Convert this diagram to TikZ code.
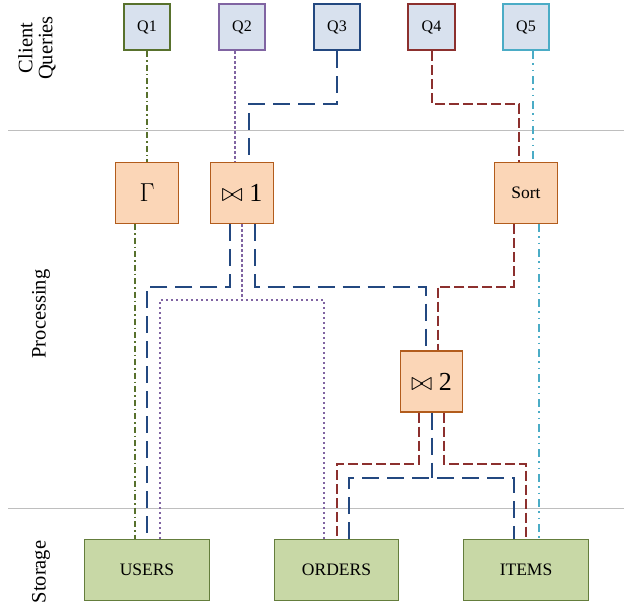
\RequirePackage{fix-cm}
\documentclass[tikz,border=0pt]{standalone}
\usepackage{fontspec}
\setmainfont{Liberation Serif}
\usepackage{xcolor}
\usepackage{tikz}
\usetikzlibrary{positioning,calc}

\definecolor{qfill}{RGB}{216,225,238}
\definecolor{pfill}{RGB}{251,214,183}
\definecolor{pborder}{RGB}{178,92,28}
\definecolor{sfill}{RGB}{200,216,166}
\definecolor{sborder}{RGB}{100,125,60}
\definecolor{sepgray}{RGB}{190,190,190}
\definecolor{cgreen}{RGB}{88,113,45}
\definecolor{cpurple}{RGB}{128,100,162}
\definecolor{cblue}{RGB}{35,72,128}
\definecolor{cred}{RGB}{140,48,46}
\definecolor{ccyan}{RGB}{75,172,198}

\begin{document}
\begin{tikzpicture}[x=1pt,y=-1pt,
    query/.style={draw, line width=2.2pt, fill=qfill, minimum width=46.5pt, minimum height=46.5pt, inner sep=0pt, font=\fontsize{16}{16}\selectfont},
    oper/.style={draw=pborder, line width=1.3pt, fill=pfill, minimum width=62.5pt, minimum height=61pt, inner sep=0pt, font=\fontsize{26}{26}\selectfont},
    store/.style={draw=sborder, line width=1.3pt, fill=sfill, minimum width=124.5pt, minimum height=60.5pt, inner sep=0pt, font=\fontsize{17.5}{17.5}\selectfont},
    lane/.style={rotate=90, align=center, font=\fontsize{20.5}{20}\selectfont},
    sep/.style={draw=sepgray, line width=1pt},
    gline/.style={draw=cgreen, line width=2pt, dash pattern=on 6pt off 3pt on 1.5pt off 3pt},
    pline/.style={draw=cpurple, line width=2pt, dash pattern=on 2.5pt off 2.5pt},
    bline/.style={draw=cblue, line width=2pt, dash pattern=on 17pt off 8pt},
    rline/.style={draw=cred, line width=2pt, dash pattern=on 10pt off 4pt},
    cline/.style={draw=ccyan, line width=2pt, dash pattern=on 8pt off 4pt on 1.5pt off 5pt on 1.5pt off 5pt},
]
    \useasboundingbox (0,0) rectangle (624,608);

    % Lanes
    \draw[sep] (8,130) -- (624,130);
    \draw[sep] (8,508.5) -- (624,508.5);
    \node[lane] (clients) at (37,48) {Client\\Queries};
    \node[lane] (processing) at (41,314) {Processing};
    \node[lane] (storage) at (41,572) {Storage};

    % Client queries
    \node[query, draw=cgreen] (q1) at (147,27) {Q1};
    \node[query, draw=cpurple] (q2) at (242,27) {Q2};
    \node[query, draw=cblue] (q3) at (337,27) {Q3};
    \node[query, draw=cred] (q4) at (431.5,27) {Q4};
    \node[query, draw=ccyan] (q5) at (526,27) {Q5};

    % Operators
    \node[oper] (g) at (147,193) {$\Gamma$};
    \node[oper] (j1) at (242,193) {$\bowtie$ 1};
    \node[oper, font=\fontsize{17.5}{17.5}\selectfont] (srt) at (526,193) {Sort};
    \node[oper] (j2) at (431.5,381.5) {$\bowtie$ 2};

    % Tables
    \node[store] (users) at (147,570) {USERS};
    \node[store] (orders) at (336.5,570) {ORDERS};
    \node[store] (items) at (526,570) {ITEMS};

    % Rows where the lines turn
    \coordinate (rowA) at (0,104);
    \coordinate (rowB) at (0,286.5);
    \coordinate (rowC) at (0,300);
    \coordinate (rowD) at (0,463.5);
    \coordinate (rowE) at (0,477.5);

    % Queries to operators
    \draw[gline] (q1.south) -- (g.north);
    \draw[pline] ([xshift=-7pt]q2.south) -- ([xshift=-7pt]j1.north);
    \draw[bline] (q3.south) |- ($(j1.north |- rowA)+(6.5,0)$) -- ([xshift=6.5pt]j1.north);
    \draw[rline] (q4.south) |- ($(srt.north |- rowA)+(-7,0)$) -- ([xshift=-7pt]srt.north);
    \draw[cline] ([xshift=6.5pt]q5.south) -- ([xshift=6.5pt]srt.north);

    % Operators to tables
    \draw[gline] ([xshift=-12pt]g.south) -- ([xshift=-12pt]users.north);
    \draw[bline] ([xshift=-12pt]j1.south) |- (users.north |- rowB) -- (users.north);
    \draw[bline] ([xshift=13pt]j1.south) |- ($(j2.north |- rowB)+(-6,0)$) -- ([xshift=-6pt]j2.north);
    \draw[pline] (j1.south) -- (j1.south |- rowC)
        ([xshift=13pt]users.north) |- ($(orders.north |- rowC)+(-12.5,0)$) -- ([xshift=-12.5pt]orders.north);
    \draw[rline] ([xshift=-12pt]srt.south) |- ($(j2.north |- rowB)+(6,0)$) -- ([xshift=6pt]j2.north);
    \draw[cline] ([xshift=13pt]srt.south) -- ([xshift=13pt]items.north);
    \draw[rline] ([xshift=-12.5pt]j2.south) |- (orders.north |- rowD) -- (orders.north);
    \draw[rline] ([xshift=12.5pt]j2.south) |- (items.north |- rowD) -- (items.north);
    \draw[bline] (j2.south) -- (j2.south |- rowE)
        ([xshift=12.5pt]orders.north) |- ($(items.north |- rowE)+(-12.5,0)$) -- ([xshift=-12.5pt]items.north);
\end{tikzpicture}
\end{document}
